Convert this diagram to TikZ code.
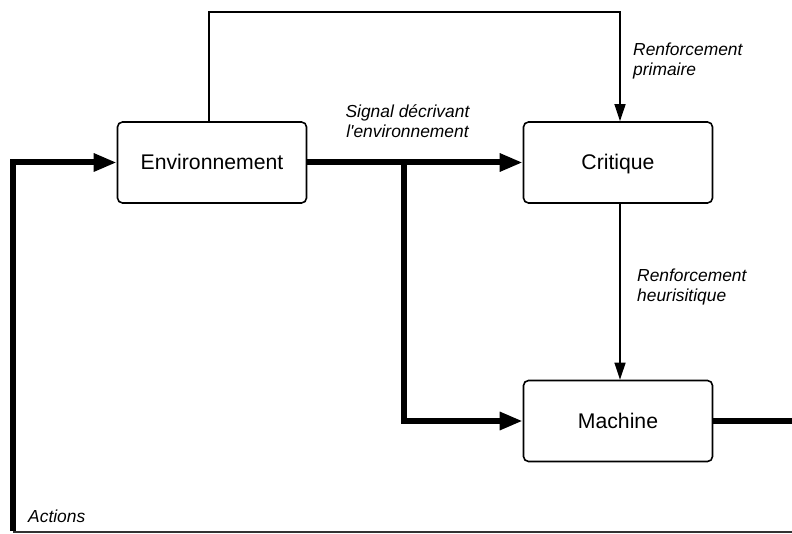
\documentclass[tikz,border=0pt]{standalone}
\usepackage{fontspec}
\setmainfont{Liberation Sans}
\usetikzlibrary{arrows.meta}
\begin{document}
\begin{tikzpicture}[x=1pt,y=-1pt,
  block/.style={draw, line width=1.6pt, rounded corners=5pt,
    minimum width=189pt, minimum height=81pt, inner sep=0pt,
    text height=19pt, text depth=4pt,
    font=\fontsize{21.2}{25}\selectfont},
  feed/.style={line width=1.4pt, -{Triangle[length=17pt,width=11pt]}},
  bus/.style={line width=6pt, -{Triangle[length=23pt,width=17pt]}},
  lbl/.style={font=\fontsize{17.4}{20}\selectfont\itshape, inner sep=0pt, align=left}]
\useasboundingbox (0,0) rectangle (792,534);

% blocks
\node[block] (env)  at (212,162.5) {Environnement};
\node[block] (crit) at (618,162.5) {Critique};
\node[block] (mach) at (618,421)   {Machine};

% routing points
\coordinate (t1) at (209,12);
\coordinate (t2) at (620,12);
\coordinate (split) at (404,162.5);
\coordinate (bl) at (13,532);
\coordinate (br) at (792,532);
\coordinate (mo) at (792,421);

% primary reinforcement loop over the top
\draw[feed] ([xshift=-3pt]env.north) -- (t1) -- (t2) -- (t2 |- crit.north);
% heuristic reinforcement
\draw[feed] ([xshift=2pt]crit.south) -- ([xshift=2pt]mach.north);

% environment signal, split to critic and machine
\draw[bus] (env.east) -- (crit.west);
\draw[bus] (split) |- (mach.west);

% actions output and feedback into the environment
\draw[line width=6pt] (mach.east) -- (mo);
\draw[line width=1.3pt, black!80] (bl) -- (br);
\draw[bus] ([yshift=1pt]bl) |- (env.west);

% labels (base anchor sits on the last line)
\node[lbl, anchor=base, align=center] (sig) at (407.5,138) {Signal décrivant\\l\textquotesingle environnement};
\node[lbl, anchor=base west] (rp) at (633,76) {Renforcement\\primaire};
\node[lbl, anchor=base west] (rh) at (637,302) {Renforcement\\heurisitique};
\node[lbl, anchor=base west] (act) at (28,522) {Actions};
\end{tikzpicture}
\end{document}
